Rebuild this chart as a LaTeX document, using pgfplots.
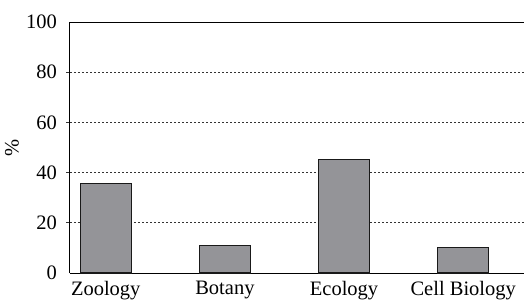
\documentclass[border=0pt]{standalone}
\usepackage{fontspec}
\setmainfont{Liberation Serif}
\usepackage{pgfplots}
\pgfplotsset{compat=1.18}
\definecolor{barfill}{RGB}{148,148,152}
\begin{document}
\fontsize{20.5}{24}\selectfont
\begin{tikzpicture}
\begin{axis}[
  name=ax,
  scale only axis,
  width=454pt, height=251pt,
  xmin=-0.30, xmax=3.51,
  ymin=0, ymax=100,
  axis x line*=bottom,
  axis y line*=left,
  axis line style={line width=1pt, black},
  xtick={0,1,2,3},
  xticklabels={Zoology,Botany,Ecology,Cell Biology},
  x tick style={draw=none},
  ytick={20,40,60,80},
  extra y ticks={0,100},
  extra y tick style={grid=none, tick style={draw=none}},
  y tick style={black!80, line width=0.8pt},
  tick align=outside,
  major tick length=3.5pt,
  ymajorgrids,
  major grid style={dash pattern=on 2.2pt off 1.8pt, line width=0.8pt, black!80},
  /pgf/number format/assume math mode=true,
  ticklabel style={font=\fontsize{20.5}{24}\selectfont},
  yticklabel style={xshift=-2.5pt},
  xticklabel style={yshift=2pt},
  ylabel={\%},
  ylabel style={font=\fontsize{20.5}{24}\selectfont, yshift=-10pt},
  clip=false,
]
\addplot[ybar, bar width=0.43, fill=barfill, draw=black!90, line width=1.2pt]
  coordinates {(0,35.5) (1,10.9) (2,45.3) (3,10.1)};
\draw[black, line width=1pt] (rel axis cs:0,1) -- (rel axis cs:1,1);
\end{axis}
\pgfresetboundingbox
\path ([xshift=-70pt,yshift=-33pt]ax.south west) rectangle ([yshift=22pt]ax.north east);
\end{tikzpicture}
\end{document}
